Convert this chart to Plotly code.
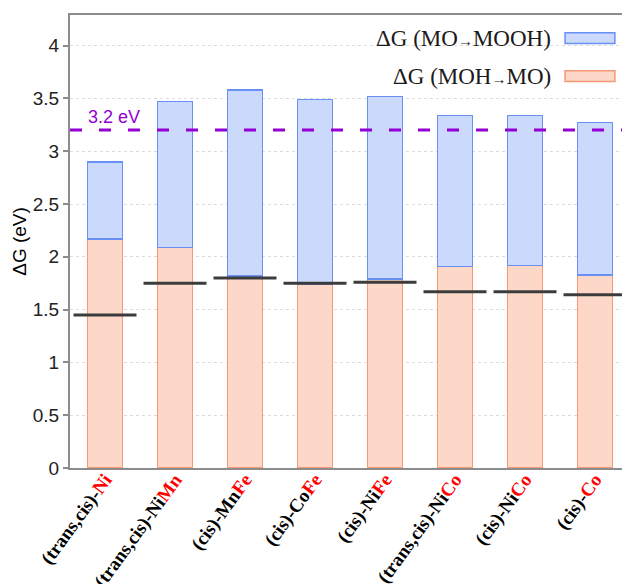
import plotly.graph_objects as go

# ---- data ----
prefixes = ["(trans,cis)-", "(trans,cis)-Ni", "(cis)-Mn", "(cis)-Co", "(cis)-Ni",
            "(trans,cis)-Ni", "(cis)-Ni", "(cis)-"]
metals = ["Ni", "Mn", "Fe", "Fe", "Fe", "Co", "Co", "Co"]
dG_MOH_MO = [2.17, 2.09, 1.82, 1.74, 1.79, 1.91, 1.92, 1.83]
dG_MO_MOOH = [0.73, 1.38, 1.76, 1.75, 1.73, 1.43, 1.42, 1.44]
ref_level = [1.45, 1.75, 1.80, 1.75, 1.76, 1.67, 1.67, 1.64]
threshold = 3.2
y_ticks = [0, 0.5, 1, 1.5, 2, 2.5, 3, 3.5, 4]
y_ticklabels = ["0", "0.5", "1", "1.5", "2", "2.5", "3", "3.5", "4"]
y_range = [0, 4.29]

x = list(range(len(metals)))
ticktext = [f"<b>{p}<span style='color:#ff0000'>{m}</span></b>" for p, m in zip(prefixes, metals)]

blue_fill = "rgb(203,217,252)"
blue_line = "rgb(105,145,245)"
orange_fill = "rgb(253,216,201)"
orange_line = "rgb(246,152,118)"

fig = go.Figure()
fig.add_trace(go.Bar(x=x, y=dG_MOH_MO, width=0.5, marker=dict(color=orange_fill, line=dict(color=orange_line, width=1.5)),
                     name="ΔG (MOH→MO)", showlegend=False))
fig.add_trace(go.Bar(x=x, y=dG_MO_MOOH, width=0.5, marker=dict(color=blue_fill, line=dict(color=blue_line, width=1.5)),
                     name="ΔG (MO→MOOH)", showlegend=False))
fig.add_trace(go.Scatter(x=x, y=ref_level, mode="markers",
                         marker=dict(symbol="line-ew-open", size=45, color="#3c3c3c",
                                     line=dict(color="#3c3c3c", width=3)),
                         showlegend=False, hoverinfo="y"))
# empty trace so the mirrored right axis (inside ticks) is drawn
fig.add_trace(go.Scatter(x=[], y=[], yaxis="y2", showlegend=False, hoverinfo="skip"))

# dashed threshold line
fig.add_shape(type="line", xref="paper", x0=0, x1=1, yref="y", y0=threshold, y1=threshold,
              line=dict(color="rgb(148,0,211)", width=3, dash="12px,17px"))
fig.add_annotation(x=0, y=threshold, xref="x", yref="y", text=f"{threshold} eV", showarrow=False,
                   xanchor="center", yanchor="bottom", xshift=9, yshift=1,
                   font=dict(family="Liberation Sans, Arial, sans-serif", size=18, color="rgb(148,0,211)"))

# custom legend (text left of swatch)
legend_items = [("ΔG (MO<span style='font-size:15px'>→</span>MOOH)", blue_fill, blue_line, 0.949),
                ("ΔG (MOH<span style='font-size:15px'>→</span>MO)", orange_fill, orange_line, 0.865)]
for txt, fc, lc, yy in legend_items:
    fig.add_annotation(x=0.862, y=yy, xref="paper", yref="paper", text=txt, showarrow=False,
                       xanchor="right", yanchor="middle",
                       font=dict(family="Liberation Serif, Times New Roman, serif", size=23, color="#1a1a1a"))
    fig.add_shape(type="rect", xref="paper", yref="paper", x0=0.884, x1=0.973, y0=yy - 0.012, y1=yy + 0.012,
                  fillcolor=fc, line=dict(color=lc, width=1.5))

fig.update_layout(
    barmode="stack",
    width=630, height=584,
    margin=dict(l=62, r=8, t=7, b=124),
    plot_bgcolor="white", paper_bgcolor="white",
    bargap=0.5,
    yaxis2=dict(overlaying="y", side="right", range=y_range, tickmode="array", tickvals=y_ticks,
                showticklabels=False, ticks="inside", ticklen=5, tickcolor="#8c8c8c", tickwidth=1.5,
                showline=False, showgrid=False, zeroline=False, automargin=False),
)
fig.update_xaxes(
    range=[-0.5, 7.5], tickmode="array", tickvals=x, ticktext=ticktext, tickangle=-54,
    tickfont=dict(family="Liberation Serif, Times New Roman, serif", size=19, color="black"),
    showline=True, linecolor="#8c8c8c", linewidth=2, mirror=True, ticks="", showgrid=False,
    automargin=False, ticklabelstandoff=-9,
)
fig.update_layout(yaxis=dict(
    range=y_range, tickmode="array", tickvals=y_ticks, ticktext=y_ticklabels,
    tickfont=dict(family="Liberation Sans, Arial, sans-serif", size=19, color="#222"),
    ticks="outside", ticklen=5, tickcolor="#8c8c8c", tickwidth=1.5,
    showline=True, linecolor="#8c8c8c", linewidth=2,
    showgrid=True, gridcolor="#dcdcdc", griddash="dot", gridwidth=1,
    zeroline=False, automargin=False,
    title=dict(text="ΔG (eV)", font=dict(family="Liberation Sans, Arial, sans-serif", size=19, color="black"), standoff=1),
))
fig.write_html("out.html")
